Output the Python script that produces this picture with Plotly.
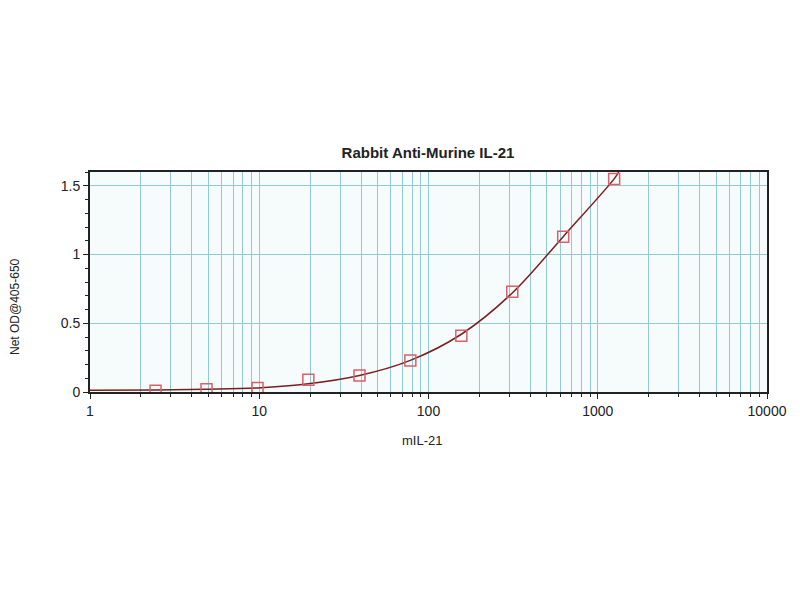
import plotly.graph_objects as go

# Data
conc = [2.44, 4.88, 9.77, 19.5, 39.1, 78.1, 156.3, 312.5, 625, 1250]
od = [0.01, 0.02, 0.03, 0.09, 0.12, 0.23, 0.41, 0.73, 1.13, 1.55]

# fitted curve
curve_x = [1, 2.44, 4.88, 9.77, 19.5, 39.1, 78.1, 156.3, 312.5, 625, 1250, 1330]
curve_y = [0.012, 0.015, 0.02, 0.03, 0.06, 0.12, 0.23, 0.42, 0.72, 1.13, 1.55, 1.6]

title = "Rabbit Anti-Murine IL-21"
x_title = "mIL-21"
y_title = "Net OD@405-650"
x_ticks = [1, 10, 100, 1000, 10000]
x_ticktext = ["1", "10", "100", "1000", "10000"]
y_ticks = [0, 0.5, 1, 1.5]
y_ticktext = ["0", "0.5", "1", "1.5"]

grid_col = "#92cbd3"
font_fam = "Liberation Sans, Arial, sans-serif"

# plot area in window pixels (page has an 8px body margin)
L, R, T, B = 90, 767, 172, 392

def px_x(px):
    return (px - L) / (R - L)

def px_y(py):
    return (B - py) / (B - T)

fig = go.Figure()
fig.add_trace(go.Scatter(
    x=curve_x, y=curve_y, mode="lines", line=dict(color="#7a1f1f", width=1.5, shape="spline"),
    hoverinfo="skip", showlegend=False))
fig.add_trace(go.Scatter(
    x=conc, y=od, mode="markers",
    marker=dict(symbol="square-open", size=11, color="#d9606a", line=dict(width=1.5, color="#c8505a")),
    showlegend=False))

fig.update_layout(
    width=800, height=600,
    paper_bgcolor="white", plot_bgcolor="#f6fcfc",
    margin=dict(l=L - 8, r=800 - (R - 8), t=T - 8, b=600 - (B - 8)),
    font=dict(family=font_fam, size=14, color="#222"),
    title=dict(text="<b>" + title + "</b>", x=(428 - 8) / 800, xanchor="center", y=1 - 145 / 600,
               yanchor="middle", font=dict(size=15, color="#222")),
    annotations=[
        dict(text=x_title, xref="paper", yref="paper", x=px_x(422), y=px_y(440),
             xanchor="center", yanchor="middle", showarrow=False, font=dict(size=13, color="#222")),
        dict(text=y_title, xref="paper", yref="paper", x=px_x(15), y=px_y(307), textangle=-90,
             xanchor="center", yanchor="middle", showarrow=False, font=dict(size=12, color="#222")),
    ],
)
fig.update_xaxes(
    type="log", range=[0, 4],
    tickvals=x_ticks, ticktext=x_ticktext,
    showgrid=True, gridcolor=grid_col, gridwidth=1.3,
    minor=dict(showgrid=True, gridcolor=grid_col, gridwidth=1.3, ticks="outside", ticklen=3,
               tickcolor="#222", dtick="D1"),
    ticks="outside", ticklen=5, tickcolor="#222",
    showline=True, linecolor="#222", linewidth=2, mirror=True,
    zeroline=False,
)
fig.update_yaxes(
    range=[0, 1.6],
    tickvals=y_ticks, ticktext=y_ticktext,
    showgrid=True, gridcolor=grid_col, gridwidth=1.3,
    minor=dict(showgrid=False, ticks="outside", ticklen=3, tickcolor="#222", dtick=0.1),
    ticks="outside", ticklen=5, tickcolor="#222",
    showline=True, linecolor="#222", linewidth=2, mirror=True,
    zeroline=False,
)

fig.write_html("out.html")
